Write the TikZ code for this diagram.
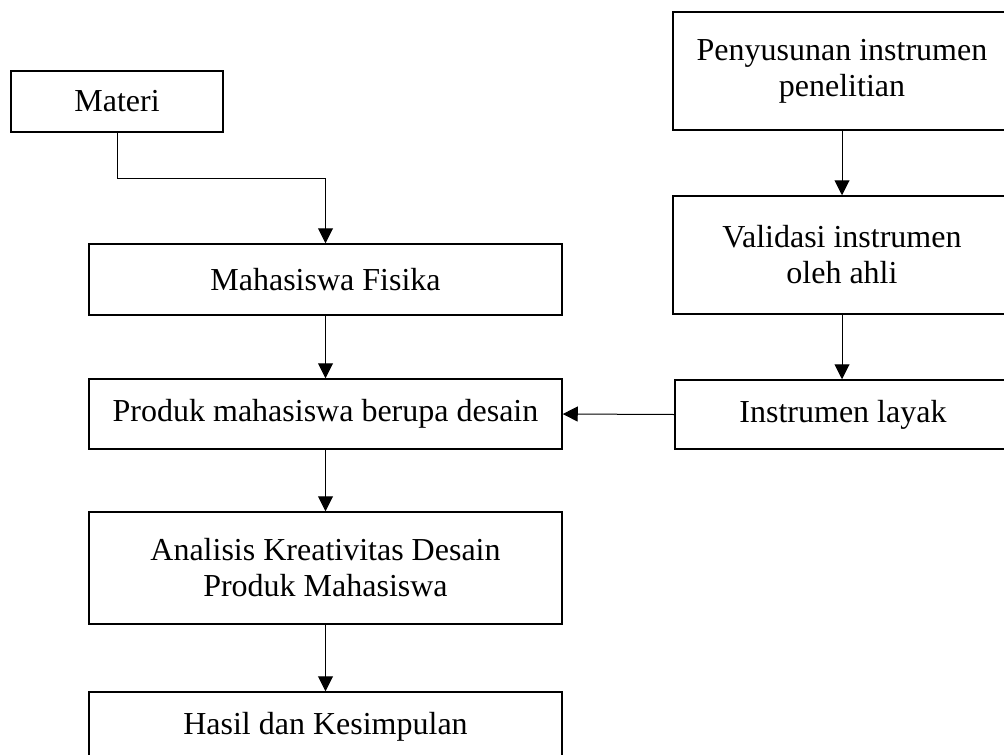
\documentclass[tikz,border=0pt]{standalone}
\usepackage{fontspec}
\setmainfont{Liberation Serif}
\usetikzlibrary{arrows.meta}
\begin{document}
\begin{tikzpicture}[x=1pt,y=-1pt,
  box/.style={draw, line width=1.5pt, inner sep=0pt, align=center,
    font=\fontsize{32}{36}\selectfont},
  arr/.style={line width=1pt, -{Triangle[length=15pt,width=15pt]}}]
\useasboundingbox (0,0) rectangle (1004,755);
\clip (0,0) rectangle (1004,755);
\node[box, minimum width=212pt, minimum height=61pt] (materi) at (117,101.5) {Materi};
\node[box, minimum width=473pt, minimum height=71pt] (fisika) at (325.5,279.5) {Mahasiswa Fisika};
\node[box, minimum width=473pt, minimum height=70pt] (produk) at (325.5,414) {Produk mahasiswa berupa desain};
\node[box, minimum width=473pt, minimum height=112pt] (analisis) at (325.5,568) {Analisis Kreativitas Desain\\Produk Mahasiswa};
\node[box, minimum width=473pt, minimum height=70pt] (hasil) at (325.5,727) {Hasil dan Kesimpulan};
\node[box, minimum width=338pt, minimum height=118pt] (penyusunan) at (842,71) {Penyusunan instrumen\\penelitian};
\node[box, minimum width=338pt, minimum height=118pt] (validasi) at (842,255) {Validasi instrumen\\oleh ahli};
\node[box, minimum width=336pt, minimum height=69pt] (layak) at (843,414.5) {Instrumen layak};
\draw[arr] (materi.south) -- ++(0,46) -| (fisika.north);
\draw[arr] (fisika.south) -- (produk.north);
\draw[arr] (produk.south) -- (analisis.north);
\draw[arr] (analisis.south) -- (hasil.north);
\draw[arr] (penyusunan.south) -- (validasi.north);
\draw[arr] (validasi.south) -- (validasi.south |- layak.north);
\draw[arr] (layak.west) -- (produk.east);
\end{tikzpicture}
\end{document}
